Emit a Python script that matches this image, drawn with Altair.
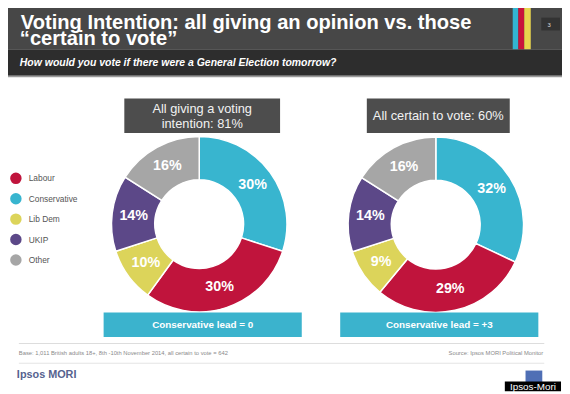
import altair as alt
import pandas as pd

# ---------------- data ----------------
parties = ["Conservative", "Labour", "Lib Dem", "UKIP", "Other"]   # clockwise from 12 o'clock
all_giving = [30, 30, 10, 14, 16]
certain_to_vote = [32, 29, 9, 14, 16]
legend_order = ["Labour", "Conservative", "Lib Dem", "UKIP", "Other"]
party_colors = ["#c0143c", "#38b5cf", "#dcd45a", "#5c4888", "#a6a6a6"]

panels = ["all", "certain"]
panel_headers = ["All giving a voting\nintention: 81%", "All certain to vote: 60%"]
lead_labels = ["Conservative lead = 0", "Conservative lead = +3"]

title_lines = ["Voting Intention: all giving an opinion vs. those", "\u201ccertain to vote\u201d"]
subtitle_text = "How would you vote if there were a General Election tomorrow?"
base_note = "Base: 1,011 British adults 18+, 8th -10th November 2014, all certain to vote = 642"
source_note = "Source: Ipsos MORI Political Monitor"
brand_text = "Ipsos MORI"
credit_text = "Ipsos-Mori"
page_no = "3"

rows = []
for panel, vals in zip(panels, [all_giving, certain_to_vote]):
    for rank, (p, v) in enumerate(zip(parties, vals)):
        rows.append({"panel": panel, "party": p, "value": v, "rank": rank})
df = pd.DataFrame(rows)

# ---------------- layout helpers ----------------
OFF = 8          # page margin: page coords -> chart coords
W, H = 562, 386
FONT = "Liberation Sans"
one = pd.DataFrame({"k": [0]})


def box(x1, y1, x2, y2, color):
    return alt.Chart(one).mark_rect(color=color).encode(
        x=alt.value(x1 - OFF), x2=alt.value(x2 - OFF),
        y=alt.value(y1 - OFF), y2=alt.value(y2 - OFF))


def label(text, x, y, **kw):
    kw.setdefault("font", FONT)
    return alt.Chart(pd.DataFrame({"t": [text]})).mark_text(lineBreak="\n", **kw).encode(
        text="t:N", x=alt.value(x - OFF), y=alt.value(y - OFF))


color_enc = alt.Color(
    "party:N",
    scale=alt.Scale(domain=legend_order, range=party_colors),
    legend=alt.Legend(
        orient="none", legendX=2, legendY=164, title=None, padding=0,
        symbolType="circle", symbolSize=135, symbolStrokeWidth=0,
        labelFont=FONT, labelFontSize=8.5, labelColor="#555555",
        labelOffset=7, rowPadding=8.7,
    ),
)


def donut(panel, cx, cy):
    base = alt.Chart(df).transform_filter(alt.datum.panel == panel)
    ring = base.mark_arc(innerRadius=45, outerRadius=89, stroke="white", strokeWidth=1.5).encode(
        theta=alt.Theta("value:Q", stack=True),
        color=color_enc,
        order=alt.Order("rank:Q"),
        x=alt.value(cx - OFF), y=alt.value(cy - OFF),
    )
    txt = base.transform_calculate(lbl="datum.value + '%'").mark_text(
        radius=67, font=FONT, fontSize=14.5, fontWeight="bold", color="white",
        align="center", baseline="middle",
    ).encode(
        theta=alt.Theta("value:Q", stack=True),
        order=alt.Order("rank:Q"),
        text="lbl:N",
        x=alt.value(cx - OFF), y=alt.value(cy - OFF),
    )
    return [ring, txt]


layers = [
    # header bands
    box(0, 0, 600, 47, "#474747"),
    box(0, 47, 600, 74, "#2d2d2d"),
    box(0, 74, 600, 75.5, "#9a9a9a"),
    # colour stripes
    box(520, 0, 525.7, 47, "#33b5d2"),
    box(525.7, 0, 531.7, 47, "#c8143c"),
    box(531.7, 0, 538.3, 47, "#e8d54e"),
    # page number
    box(549, 15, 568, 28, "#333333"),
    label(page_no, 557, 22, fontSize=6, color="#dddddd", align="center", baseline="middle"),
    # title and subtitle
    label(title_lines[0], 21, 26.5, fontSize=20.4, fontWeight="bold", color="white",
          align="left", baseline="alphabetic"),
    label(title_lines[1], 20, 42.5, fontSize=20.4, fontWeight="bold", color="white",
          align="left", baseline="alphabetic"),
    label(subtitle_text, 20, 64.5, fontSize=10.6, fontWeight="bold", fontStyle="italic",
          color="white", align="left", baseline="alphabetic"),
    # panel header boxes
    box(126, 97, 284, 132, "#4d4d4d"),
    label(panel_headers[0], 205, 112, fontSize=13, color="#f2f2f2", align="center",
          baseline="alphabetic", lineHeight=14.5),
    box(372, 97, 517, 132, "#4d4d4d"),
    label(panel_headers[1], 444.5, 114.5, fontSize=13, color="#f2f2f2", align="center",
          baseline="middle"),
]
layers += donut("all", 202, 224.5)
layers += donut("certain", 442, 225)
layers += [
    # lead boxes
    box(105, 314, 306, 339, "#3bb3cd"),
    label(lead_labels[0], 205.5, 327, fontSize=10, fontWeight="bold", color="white",
          align="center", baseline="middle"),
    box(345, 314, 546, 339, "#3bb3cd"),
    label(lead_labels[1], 445.5, 327, fontSize=10, fontWeight="bold", color="white",
          align="center", baseline="middle"),
    # footer
    box(19, 345, 552, 346, "#dddddd"),
    label(base_note, 19, 355.5, fontSize=5.9, color="#8a8a8a", align="left", baseline="middle"),
    label(source_note, 551, 355.5, fontSize=5.9, color="#8a8a8a", align="right", baseline="middle"),
    box(19, 365, 552, 366, "#e4e4e4"),
    label(brand_text, 17, 377.5, fontSize=11, fontWeight="bold", color="#56628f",
          align="left", baseline="middle"),
    box(533, 373, 550, 385, "#4f6fb5"),
    box(512, 384, 569, 394, "#000000"),
    label(credit_text, 540.5, 389.5, fontSize=10, color="white", align="center", baseline="middle"),
]

chart = alt.layer(*layers).properties(
    width=W, height=H, padding=0, autosize="none", background="white",
).configure_view(stroke=None)

chart.save("out.html", embed_options={"renderer": "svg", "actions": False})
